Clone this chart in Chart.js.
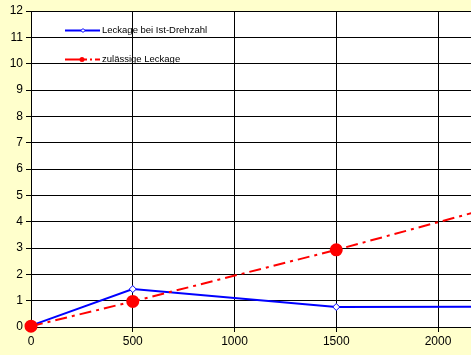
<!DOCTYPE html>
<html><head><meta charset="utf-8">
<script src="https://cdn.jsdelivr.net/npm/chart.js@4"></script>
<style>html,body{margin:0;padding:0;background:#FFFFCC;overflow:hidden}#w{width:471px;height:355px;position:relative}</style>
</head><body><div id="w"><canvas id="c" width="471" height="355"></canvas></div>
<script>
const speedX = [0, 500, 1500, 2200];
const istLeckage = [0.05, 1.44, 0.76, 0.77];
const zulLeckage = [0.03, 0.97, 2.93, 4.4];
const seriesLabels = ['Leckage bei Ist-Drehzahl', 'zulässige Leckage'];
const xTicks = [0, 500, 1000, 1500, 2000];
const yTicks = [0,1,2,3,4,5,6,7,8,9,10,11,12];

const legendPlugin = {
  id: 'inLegend',
  afterDraw(chart) {
    const ctx = chart.ctx;
    const ds = chart.data.datasets;
    const rows = [30.5, 59.5];
    ctx.save();
    ds.forEach((d, i) => {
      const y = rows[i];
      ctx.strokeStyle = d.borderColor;
      ctx.lineWidth = 2;
      ctx.beginPath();
      if (i === 1) {
        ctx.moveTo(65, y); ctx.lineTo(87, y);
        ctx.moveTo(90, y); ctx.lineTo(92, y);
        ctx.moveTo(95, y); ctx.lineTo(100, y);
      } else {
        ctx.moveTo(65, y); ctx.lineTo(100, y);
      }
      ctx.stroke();
      if (i === 0) {
        ctx.strokeStyle = d.borderColor; ctx.lineWidth = 1;
        ctx.beginPath(); ctx.moveTo(83, y-2); ctx.lineTo(85, y); ctx.lineTo(83, y+2); ctx.lineTo(81, y); ctx.closePath();
        ctx.fillStyle = '#fff'; ctx.fill(); ctx.stroke();
      } else {
        ctx.fillStyle = d.borderColor;
        ctx.beginPath(); ctx.arc(82, y, 2.5, 0, Math.PI*2); ctx.fill();
      }
      ctx.fillStyle = '#000';
      ctx.font = '9.5px "Liberation Sans", Arial, sans-serif';
      ctx.textBaseline = 'middle';
      ctx.fillText(d.label, 102, y);
    });
    ctx.restore();
  }
};
const bgPlugin = {
  id: 'bg',
  beforeDraw(chart) {
    const {ctx, chartArea: a} = chart;
    ctx.save();
    ctx.fillStyle = '#FFFFCC'; ctx.fillRect(0, 0, chart.width, chart.height);
    ctx.fillStyle = '#FFFFFF'; ctx.fillRect(a.left, a.top, a.right - a.left, a.bottom - a.top);
    ctx.restore();
  }
};

new Chart(document.getElementById('c'), {
  type: 'line',
  data: {
    datasets: [
      {
        label: seriesLabels[0],
        data: speedX.map((x, i) => ({x, y: istLeckage[i]})),
        borderColor: '#0000FF', borderWidth: 2, order: 1,
        clip: {left: 8, bottom: 8, top: 0, right: 0},
        pointStyle: 'rectRot', pointRadius: [3.5, 3.5, 3.5, 0],
        pointBackgroundColor: '#FFFFFF', pointBorderColor: '#0000FF', pointBorderWidth: 1,
        tension: 0
      },
      {
        label: seriesLabels[1],
        data: speedX.map((x, i) => ({x, y: zulLeckage[i]})),
        borderColor: '#FF0000', borderWidth: 2, borderDash: [12, 5, 3, 5], order: 0,
        clip: {left: 8, bottom: 8, top: 0, right: 0},
        pointStyle: 'circle', pointRadius: [5.5, 5.5, 5.5, 0],
        pointBackgroundColor: '#FF0000', pointBorderColor: '#FF0000',
        tension: 0
      }
    ]
  },
  options: {
    responsive: false, animation: false, devicePixelRatio: 1,
    layout: { autoPadding: false, padding: { top: 11, right: 0, left: 0, bottom: 0 } },
    plugins: { legend: { display: false }, tooltip: { enabled: false } },
    scales: {
      x: {
        type: 'linear', min: 0, max: 2162,
        afterBuildTicks(s) { s.ticks = xTicks.map(v => ({value: v})); },
        afterFit(s) { s.height = 28; s.paddingLeft = 0; s.paddingRight = 0; },
        grid: { color: '#000', lineWidth: 1, drawTicks: true, tickLength: 5, tickColor: '#000' },
        border: { color: '#000', width: 1 },
        ticks: { color: '#000', font: { family: '"Liberation Sans", Arial, sans-serif', size: 12 }, padding: 2, maxRotation: 0,
          callback: v => String(v) }
      },
      y: {
        min: 0, max: 12,
        afterBuildTicks(s) { s.ticks = yTicks.map(v => ({value: v})); },
        afterFit(s) { s.width = 31; s.paddingTop = 0; s.paddingBottom = 0; },
        grid: { color: '#000', lineWidth: 1, drawTicks: true, tickLength: 5, tickColor: '#000' },
        border: { color: '#000', width: 1 },
        ticks: { color: '#000', font: { family: '"Liberation Sans", Arial, sans-serif', size: 12 }, padding: 3,
          callback: v => String(v) }
      }
    }
  },
  plugins: [bgPlugin, legendPlugin]
});
</script></body></html>
